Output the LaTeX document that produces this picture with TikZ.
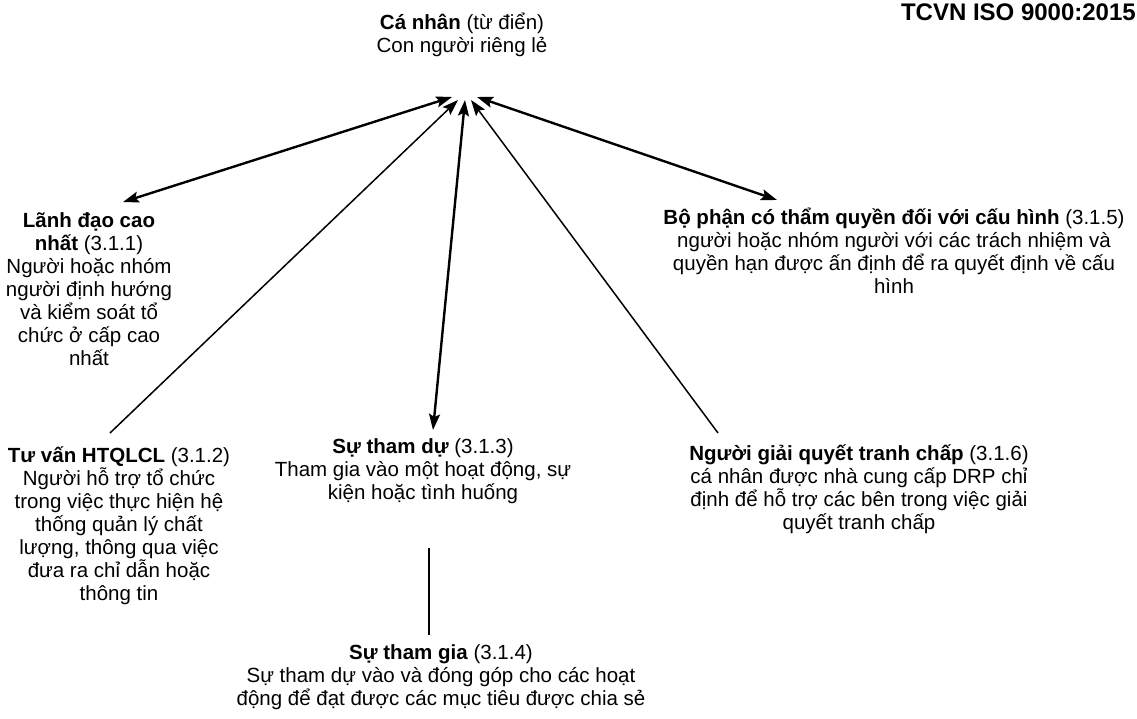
\documentclass[tikz,border=0pt]{standalone}
\usepackage{fontspec}
\setmainfont{Liberation Sans}
\usetikzlibrary{arrows.meta}
\newcommand{\firstln}{\rule{0pt}{21pt}}
\begin{document}
\begin{tikzpicture}[x=1pt,y=-1pt,
  txt/.style={align=center, inner sep=0pt, anchor=north, font=\fontsize{20.5}{23}\selectfont, text=black},
  tip/.style={-{Stealth[length=16pt,width=11pt,inset=3pt]}},
  biarrow/.style={{Stealth[length=16pt,width=11pt,inset=3pt]}-{Stealth[length=16pt,width=11pt,inset=3pt]}},
  thick line/.style={line width=2.4pt},
  thin line/.style={line width=1.5pt}]
\useasboundingbox[fill=white] (0,0) rectangle (1137,719);

% title
\node[anchor=base east, inner sep=0pt, font=\bfseries\fontsize{24}{24}\selectfont] (std) at (1136,21) {TCVN ISO 9000:2015};

% nodes
\node[txt] (canhan) at (462,8) {\firstln\textbf{Cá nhân} (từ điển)\\Con người riêng lẻ};
\node[txt] (lanhdao) at (89,206) {\firstln\textbf{Lãnh đạo cao}\\\textbf{nhất} (3.1.1)\\Người hoặc nhóm\\người định hướng\\và kiểm soát tổ\\chức ở cấp cao\\nhất};
\node[txt] (tuvan) at (119,441) {\firstln\textbf{Tư vấn HTQLCL} (3.1.2)\\Người hỗ trợ tổ chức\\trong việc thực hiện hệ\\thống quản lý chất\\lượng, thông qua việc\\đưa ra chỉ dẫn hoặc\\thông tin};
\node[txt] (thamdu) at (423,432) {\firstln\textbf{Sự tham dự} (3.1.3)\\Tham gia vào một hoạt động, sự\\kiện hoặc tình huống};
\node[txt] (thamgia) at (441,638) {\firstln\textbf{Sự tham gia} (3.1.4)\\Sự tham dự vào và đóng góp cho các hoạt\\động để đạt được các mục tiêu được chia sẻ};
\node[txt] (bophan) at (894,203) {\firstln\textbf{Bộ phận có thẩm quyền đối với cấu hình} (3.1.5)\\người hoặc nhóm người với các trách nhiệm và\\quyền hạn được ấn định để ra quyết định về cấu\\hình};
\node[txt] (giaiquyet) at (859,439) {\firstln\textbf{Người giải quyết tranh chấp} (3.1.6)\\cá nhân được nhà cung cấp DRP chỉ\\định để hỗ trợ các bên trong việc giải\\quyết tranh chấp};

% connector end points
\coordinate (hubA) at (452,97);
\coordinate (hubB) at (458,100);
\coordinate (hubC) at (465,100);
\coordinate (hubD) at (471,100);
\coordinate (hubE) at (477,97);
\coordinate (ldEnd) at (123,202);
\coordinate (tvEnd) at (110,433);
\coordinate (tdEnd) at (433,430);
\coordinate (gqEnd) at (718,433);
\coordinate (bpEnd) at (777,200);
\coordinate (vTop) at (429,548);
\coordinate (vBot) at (429,635);

% connectors
\draw[biarrow, thick line] (hubA) -- (ldEnd);
\draw[tip, thin line] (tvEnd) -- (hubB);
\draw[biarrow, thick line] (hubC) -- (tdEnd);
\draw[tip, thin line] (gqEnd) -- (hubD);
\draw[biarrow, thick line] (hubE) -- (bpEnd);
\draw[thin line] (vTop) -- (vBot);
\end{tikzpicture}
\end{document}
